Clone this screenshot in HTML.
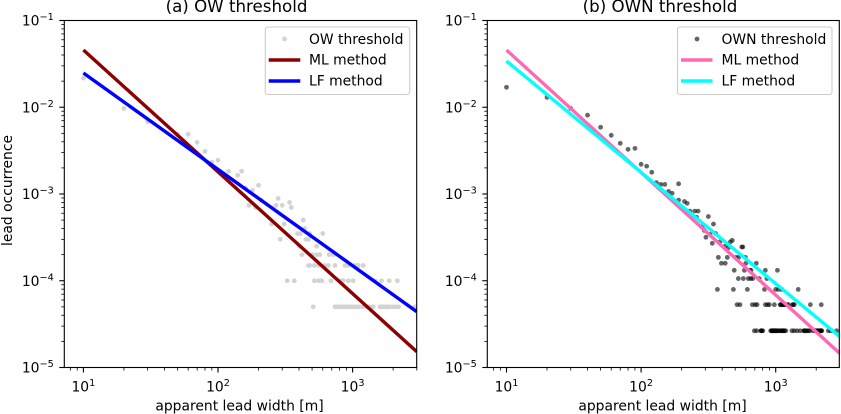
<!DOCTYPE html>
<html>
<head>
<meta charset="utf-8">
<style>
html,body{margin:0;padding:0;background:#fff;width:841px;height:414px;overflow:hidden}
svg{display:block;font-family:"DejaVu Sans","Liberation Sans",sans-serif;fill:#000}
text{font-size:13.89px}
</style>
</head>
<body>
<svg id="figure" width="841" height="414" viewBox="0 0 841 414" xmlns="http://www.w3.org/2000/svg">
  <defs>
    <clipPath id="clip-a"><rect x="64.3" y="20.5" width="352.4" height="347"/></clipPath>
    <clipPath id="clip-b"><rect x="487.3" y="20.5" width="352" height="347"/></clipPath>
  </defs>
  <g id="panel-a">
    <g id="ticks-a"></g>
    <g id="points-a" clip-path="url(#clip-a)"></g>
    <g id="lines-a" clip-path="url(#clip-a)"></g>
    <rect x="64.3" y="20.5" width="352.4" height="347" fill="none" stroke="#000" stroke-width="1.1"/>
    <text x="236.5" y="12" text-anchor="middle" style="font-size:16.67px">(a) OW threshold</text>
    <text x="239.5" y="410.5" text-anchor="middle">apparent lead width [m]</text>
    <text transform="translate(12,190.5) rotate(-90)" text-anchor="middle">lead occurrence</text>
    <g>
      <rect x="265.3" y="27" width="144.4" height="67.5" rx="2.5" fill="#fff" fill-opacity="0.8" stroke="#ccc" stroke-width="1.1"/>
      <circle cx="284.5" cy="39" r="2.4" fill="#d3d3d3"/>
      <text x="309" y="44">OW threshold</text>
      <line x1="268.7" x2="300.3" y1="60" y2="60" stroke="#8b0000" stroke-width="3.4"/>
      <text x="309" y="64.5">ML method</text>
      <line x1="268.7" x2="300.3" y1="81" y2="81" stroke="#0000ff" stroke-width="3.4"/>
      <text x="309" y="85.5">LF method</text>
    </g>
  </g>
  <g id="panel-b">
    <g id="ticks-b"></g>
    <g id="points-b" clip-path="url(#clip-b)"></g>
    <g id="lines-b" clip-path="url(#clip-b)"></g>
    <rect x="487.3" y="20.5" width="352" height="347" fill="none" stroke="#000" stroke-width="1.1"/>
    <text x="660" y="12" text-anchor="middle" style="font-size:16.67px">(b) OWN threshold</text>
    <text x="662.5" y="410.5" text-anchor="middle">apparent lead width [m]</text>
    <g>
      <rect x="677.5" y="27" width="154.5" height="67.5" rx="2.5" fill="#fff" fill-opacity="0.8" stroke="#ccc" stroke-width="1.1"/>
      <circle cx="697" cy="39" r="2.4" fill="#000" fill-opacity="0.6"/>
      <text x="721.5" y="44">OWN threshold</text>
      <line x1="681" x2="712.5" y1="60" y2="60" stroke="#ff69b4" stroke-width="3.4"/>
      <text x="721.5" y="64.5">ML method</text>
      <line x1="681" x2="712.5" y1="81" y2="81" stroke="#00ffff" stroke-width="3.4"/>
      <text x="721.5" y="85.5">LF method</text>
    </g>
  </g>
</svg>
<script>
const xMajorExponents = [1, 2, 3];
const yMajorExponents = [-5, -4, -3, -2, -1];
const xTickLabels = ['1', '2', '3'];
const yTickLabels = ['\u22125', '\u22124', '\u22123', '\u22122', '\u22121'];

const fitWidths = [10, 3000];
const owMlValues = [0.0457, 0.0000152];
const owLfValues = [0.0248, 0.000044];
const ownMlValues = [0.0457, 0.0000145];
const ownLfValues = [0.0341, 0.0000226];

const owWidths = [10,20,30,50,60,70,80,90,100,120,140,150,
  160,170,180,190,200,210,250,270,280,290,300,310,340,350,390,400,410,420,430,440,450,470,480,
  500,540,540,570,600,670,720,
  470,480,520,560,620,660,740,880,930,1040,1100,1200,
  327,369,520,560,590,690,810,850,930,1010,1470,1640,1870,2150,
  510,740,770,790,810,830,850,880,900,930,960,980,1000,1040,1080,1120,1190,1280,1340,1420,1600,1640,1680,1740,1790,1850,1900,2000,2100,2200,2900];
const owValues = [0.0216,0.0097,0.0068,0.00488,0.00488,0.00394,0.0031,0.00232,0.00245,0.00183,0.00164,0.00183,
  0.00117,0.00074,0.0011,0.0007,0.00126,0.00085,0.00045,0.00074,0.00089,0.0003,0.00074,0.00045,0.0008,0.0007,0.00035,0.00025,0.00035,0.0002,0.0005,0.0004,0.0003,0.0003,0.00035,
  0.0002,0.00025,0.0002,0.0002,0.00035,0.0002,0.0002,
  0.00015,0.00015,0.00015,0.00015,0.00015,0.00015,0.00015,0.00015,0.00015,0.00015,0.00015,0.00015,
  0.0001,0.0001,0.0001,0.0001,0.0001,0.0001,0.0001,0.0001,0.0001,0.0001,0.0001,0.0001,0.0001,0.0001,
  0.00005,0.00005,0.00005,0.00005,0.00005,0.00005,0.00005,0.00005,0.00005,0.00005,0.00005,0.00005,0.00005,0.00005,0.00005,0.00005,0.00005,0.00005,0.00005,0.00005,0.00005,0.00005,0.00005,0.00005,0.00005,0.00005,0.00005,0.00005,0.00005,0.00005,0.00005];

const ownWidths = [10,20,30,40,50,60,70,80,90,100,110,120,130,140,150,160,170,190,190,210,220,230,250,265,258,316,345,285,295,325,358,303,338,385,476,460,420,445,560,570,
  375,437,507,530,595,
  395,422,600,718,
  492,585,645,655,838,1030,
  528,575,626,652,675,755,860,
  369,485,616,825,1000,1050,1110,1470,
  516,543,670,703,727,838,870,897,977,1080,1130,1180,1240,1330,1375,1810,2180,1090,1110,1140,1160,1220,1350,
  694,722,774,802,918,950,980,1010,1050,1100,1130,1190,1320,1370,1440,1520,1620,1690,1790,1960,2010,2060,2120,2170,2200,2460,2560,2840,
  780,790,930,940,960,970,990,1000,1020,1060,1080,1120,1150,1160,1620,1650,1700,1760,1900,1980,2040,2080,2140,2180];
const ownValues = [0.017,0.013,0.0097,0.0081,0.00588,0.00475,0.00384,0.00327,0.00336,0.0022,0.00209,0.00178,0.00135,0.00129,0.00129,0.00107,0.00102,0.00131,0.00085,0.00082,0.00078,0.000635,0.000635,0.000635,0.00054,0.00055,0.00045,0.00042,0.00038,0.000343,0.00035,0.000317,0.00027,0.00028,0.000292,0.00028,0.00025,0.00024,0.000245,0.000245,
  0.000186,0.000186,0.000186,0.000186,0.000186,
  0.000159,0.000159,0.000159,0.000159,
  0.000132,0.000132,0.000132,0.000132,0.000132,0.000132,
  0.000106,0.000106,0.000106,0.000106,0.000106,0.000106,0.000106,
  0.0000795,0.0000795,0.0000795,0.0000795,0.0000795,0.0000795,0.0000795,0.0000795,
  0.000053,0.000053,0.000053,0.000053,0.000053,0.000053,0.000053,0.000053,0.000053,0.000053,0.000053,0.000053,0.000053,0.000053,0.000053,0.000053,0.000053,0.000053,0.000053,0.000053,0.000053,0.000053,0.000053,
  0.0000265,0.0000265,0.0000265,0.0000265,0.0000265,0.0000265,0.0000265,0.0000265,0.0000265,0.0000265,0.0000265,0.0000265,0.0000265,0.0000265,0.0000265,0.0000265,0.0000265,0.0000265,0.0000265,0.0000265,0.0000265,0.0000265,0.0000265,0.0000265,0.0000265,0.0000265,0.0000265,0.0000265,
  0.0000265,0.0000265,0.0000265,0.0000265,0.0000265,0.0000265,0.0000265,0.0000265,0.0000265,0.0000265,0.0000265,0.0000265,0.0000265,0.0000265,0.0000265,0.0000265,0.0000265,0.0000265,0.0000265,0.0000265,0.0000265,0.0000265,0.0000265,0.0000265];

const SVG_NS = 'http://www.w3.org/2000/svg';
const DECADE_X = 134.6;
const DECADE_Y = 86.75;
const Y_TOP = 20.5;
const Y_BOTTOM = 367.5;

function yScale(v) { return Y_TOP + (-1 - Math.log10(v)) * DECADE_Y; }
function makeXScale(x10) { return function (w) { return x10 + (Math.log10(w) - 1) * DECADE_X; }; }

function svgEl(tag, attrs, parent) {
  const el = document.createElementNS(SVG_NS, tag);
  Object.keys(attrs).forEach(function (k) { el.setAttribute(k, attrs[k]); });
  parent.appendChild(el);
  return el;
}

function powerLabel(parent, x, y, anchor, exponent) {
  const t = svgEl('text', { x: x, y: y, 'text-anchor': anchor }, parent);
  
  
  t.appendChild(document.createTextNode('10'));
  const sup = svgEl('tspan', { dy: -5.5, style: 'font-size:9.7px' }, t);
  
  
  sup.textContent = exponent;
}

function drawTicks(group, xs, left, right) {
  xMajorExponents.forEach(function (e, i) {
    const px = xs(Math.pow(10, e));
    const tick = svgEl('line', { x1: px, x2: px, y1: Y_BOTTOM, y2: Y_BOTTOM + 5, stroke: '#000', 'stroke-width': 1.1 }, group);
    
    
    powerLabel(group, px, Y_BOTTOM + 24, 'middle', xTickLabels[i]);
  });
  for (let e = 0; e <= 3; e++) {
    for (let m = 2; m <= 9; m++) {
      const px = xs(m * Math.pow(10, e));
      if (px < left || px > right + 0.5) continue;
      const tick = svgEl('line', { x1: px, x2: px, y1: Y_BOTTOM, y2: Y_BOTTOM + 3, stroke: '#000', 'stroke-width': 0.8 }, group);
      
      
    }
  }
  yMajorExponents.forEach(function (e, i) {
    const py = yScale(Math.pow(10, e));
    const tick = svgEl('line', { x1: left - 5, x2: left, y1: py, y2: py, stroke: '#000', 'stroke-width': 1.1 }, group);
    
    
    powerLabel(group, left - 10.5, py + 5, 'end', yTickLabels[i]);
    if (e === -1) return;
    for (let m = 2; m <= 9; m++) {
      const my = yScale(m * Math.pow(10, e));
      const minor = svgEl('line', { x1: left - 3, x2: left, y1: my, y2: my, stroke: '#000', 'stroke-width': 0.8 }, group);
      
      
    }
  });
}

function drawPoints(group, xs, widths, values, fill, opacity) {
  widths.forEach(function (w, i) {
    const c = svgEl('circle', { cx: xs(w), cy: yScale(values[i]), r: 2.4, fill: fill, 'fill-opacity': opacity }, group);
    
    
  });
}

function drawFit(group, xs, values, color) {
  const l = svgEl('line', {
    x1: xs(fitWidths[0]), y1: yScale(values[0]),
    x2: xs(fitWidths[1]), y2: yScale(values[1]),
    stroke: color, 'stroke-width': 3.4
  }, group);
  
  
}

const xA = makeXScale(83.4);
const xB = makeXScale(506.5);

drawTicks(document.getElementById('ticks-a'), xA, 64.3, 416.7);
drawTicks(document.getElementById('ticks-b'), xB, 487.3, 839.3);
drawPoints(document.getElementById('points-a'), xA, owWidths, owValues, '#d3d3d3', 1);
drawPoints(document.getElementById('points-b'), xB, ownWidths, ownValues, '#000', 0.6);
drawFit(document.getElementById('lines-a'), xA, owMlValues, '#8b0000');
drawFit(document.getElementById('lines-a'), xA, owLfValues, '#0000ff');
drawFit(document.getElementById('lines-b'), xB, ownMlValues, '#ff69b4');
drawFit(document.getElementById('lines-b'), xB, ownLfValues, '#00ffff');
</script>
</body>
</html>
